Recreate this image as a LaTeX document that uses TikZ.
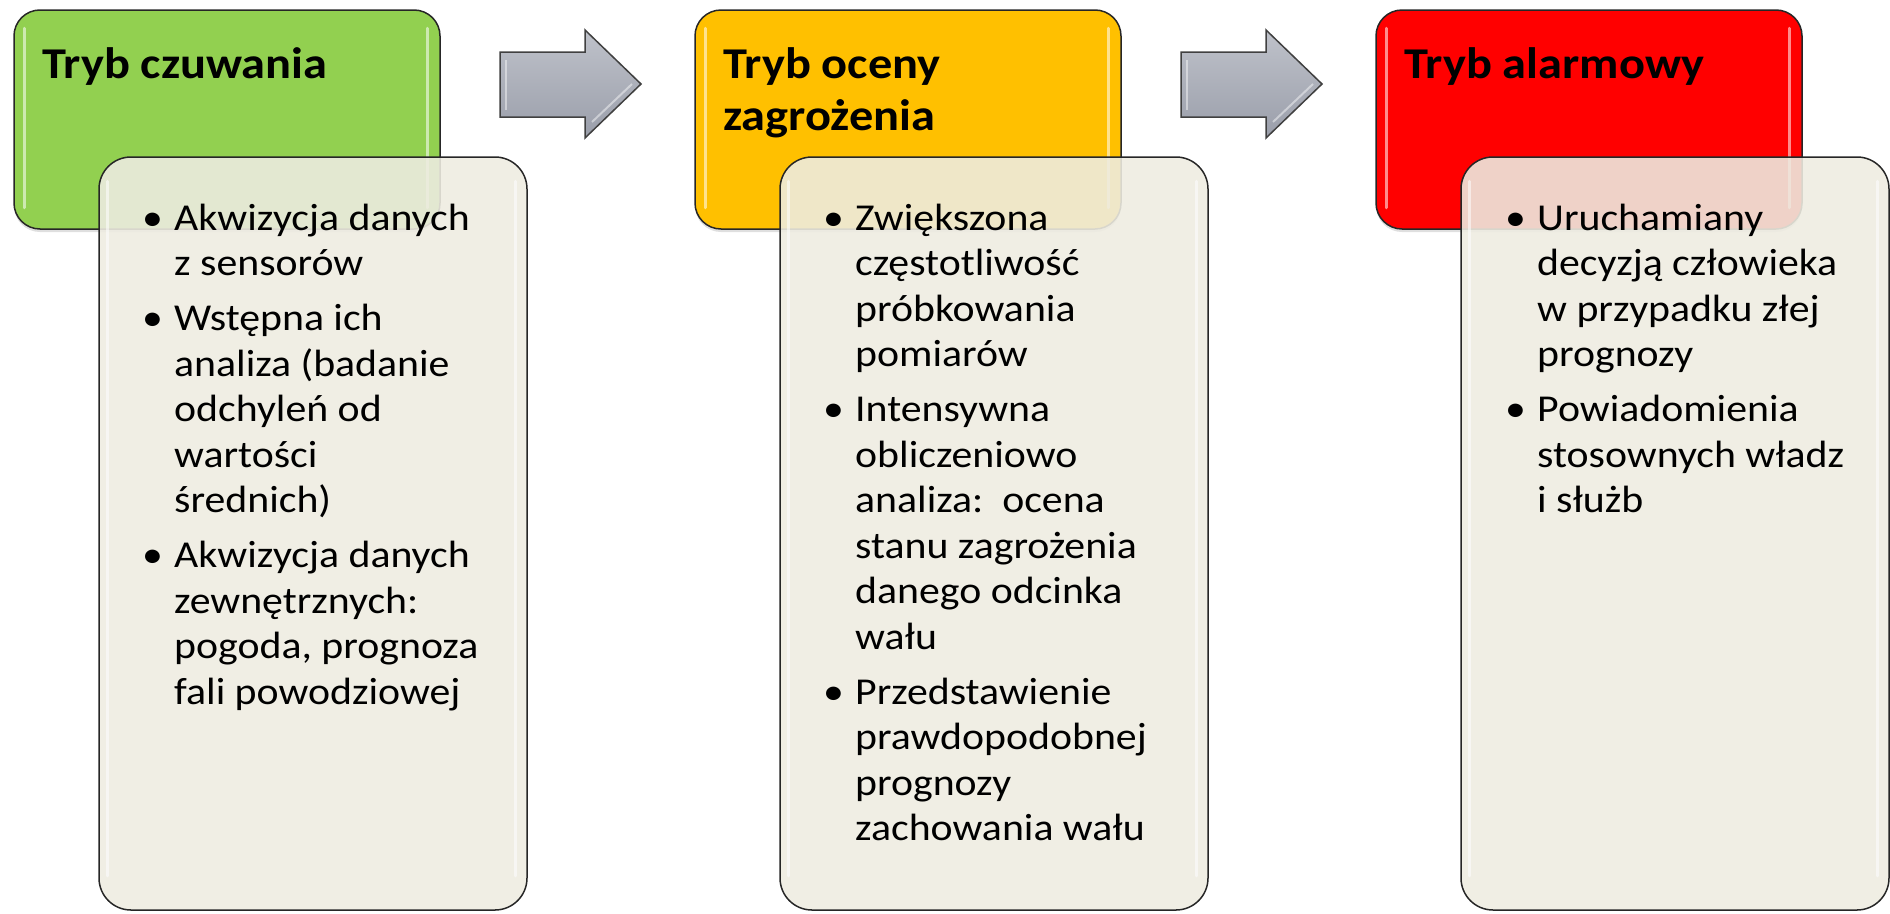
\documentclass[tikz,border=0pt]{standalone}
\usepackage{fontspec}
\setmainfont{Carlito}[FakeStretch=1.1]
\usetikzlibrary{shadows}
\definecolor{cgreen}{HTML}{92D050}
\definecolor{corange}{HTML}{FFC000}
\definecolor{cred}{HTML}{FF0000}
\definecolor{ccream}{HTML}{EEECE1}
\definecolor{cgraytop}{HTML}{BFC2CA}
\definecolor{cgraybot}{HTML}{9A9EAA}
\newcommand\bodyfont{\fontsize{38}{45.5}\selectfont}
\newcommand\titlefont{\fontsize{44}{52}\selectfont\bfseries}
\newcommand\bul{\noindent\makebox[0pt][r]{\makebox[32pt][l]{\textbullet}}}
\newcommand\bodylist[1]{\begin{minipage}[t]{360pt}\bodyfont\raggedright\parskip=9.5pt\parindent=0pt #1\end{minipage}}
\newcommand\titlelist[1]{\begin{minipage}[t]{380pt}\titlefont\raggedright\parindent=0pt #1\end{minipage}}
\begin{document}
\begin{tikzpicture}[x=1pt,y=-1pt,
  topbox/.style={draw=black!85, line width=1.5pt, rounded corners=26pt,
    minimum width=426pt, minimum height=219pt, inner sep=0pt,
    drop shadow={opacity=0.25, shadow xshift=0pt, shadow yshift=-3pt}},
  creambox/.style={draw=black!85, line width=1.5pt, rounded corners=32pt,
    fill=ccream, fill opacity=0.89,
    minimum width=428pt, minimum height=753pt, inner sep=0pt},
  hl/.style={white, line width=3pt, opacity=0.55, line cap=round},
  arrowshape/.style={draw=black!75, line width=1.5pt, top color=cgraytop, bottom color=cgraybot},
  ttext/.style={anchor=base west, inner sep=0pt, text=black},
  btext/.style={anchor=base west, inner sep=0pt, text=black}
]
\useasboundingbox (0,0) rectangle (1890,913);

% top boxes
\node[topbox, fill=cgreen]  (g) at (227,119.5) {};
\node[topbox, fill=corange] (o) at (908,119.5) {};
\node[topbox, fill=cred]    (r) at (1589,119.5) {};
\foreach \n in {g,o,r}{
  \draw[hl] ([xshift=11pt,yshift=-19pt]\n.north west) -- ([xshift=11pt,yshift=22pt]\n.south west);
  \draw[hl] ([xshift=-13pt,yshift=-19pt]\n.north east) -- ([xshift=-13pt,yshift=22pt]\n.south east);
}

% titles
\node[ttext] (gt) at (42,78)   {\titlelist{Tryb czuwania}};
\node[ttext] (ot) at (723,78)  {\titlelist{Tryb oceny\\zagrożenia}};
\node[ttext] (rt) at (1404,78) {\titlelist{Tryb alarmowy}};

% arrows
\draw[arrowshape] (500,52) -- (585,52) -- (585,30) -- (641,84) -- (585,138) -- (585,117) -- (500,117) -- cycle;
\draw[arrowshape] (1181,52) -- (1266,52) -- (1266,30) -- (1322,84) -- (1266,138) -- (1266,117) -- (1181,117) -- cycle;
\draw[white, opacity=0.45, line width=2pt] (506,60) -- (506,110);
\draw[white, opacity=0.45, line width=2pt] (1187,60) -- (1187,110);
\draw[white, opacity=0.45, line width=2pt] (592,122) -- (632,84);
\draw[white, opacity=0.45, line width=2pt] (1273,122) -- (1313,84);

% cream boxes
\node[creambox] (c1) at (313,533.5) {};
\node[creambox] (c2) at (994,533.5) {};
\node[creambox] (c3) at (1675,533.5) {};
\foreach \n in {c1,c2,c3}{
  \draw[hl] ([xshift=9pt,yshift=-25pt]\n.north west) -- ([xshift=9pt,yshift=35pt]\n.south west);
  \draw[hl] ([xshift=-12pt,yshift=-25pt]\n.north east) -- ([xshift=-12pt,yshift=35pt]\n.south east);
}

% body texts
\node[btext] (b1) at (174,230) {\bodylist{%
\bul Akwizycja danych\\z sensorów\par
\bul Wstępna ich\\analiza (badanie\\odchyleń od\\wartości\\średnich)\par
\bul Akwizycja danych\\zewnętrznych:\\pogoda, prognoza\\fali powodziowej}};
\node[btext] (b2) at (855,230) {\bodylist{%
\bul Zwiększona\\częstotliwość\\próbkowania\\pomiarów\par
\bul Intensywna\\obliczeniowo\\analiza:\ \ ocena\\stanu zagrożenia\\danego odcinka\\wału\par
\bul Przedstawienie\\prawdopodobnej\\prognozy\\zachowania wału}};
\node[btext] (b3) at (1537,230) {\bodylist{%
\bul Uruchamiany\\decyzją człowieka\\w przypadku złej\\prognozy\par
\bul Powiadomienia\\stosownych władz\\i służb}};
\end{tikzpicture}
\end{document}
